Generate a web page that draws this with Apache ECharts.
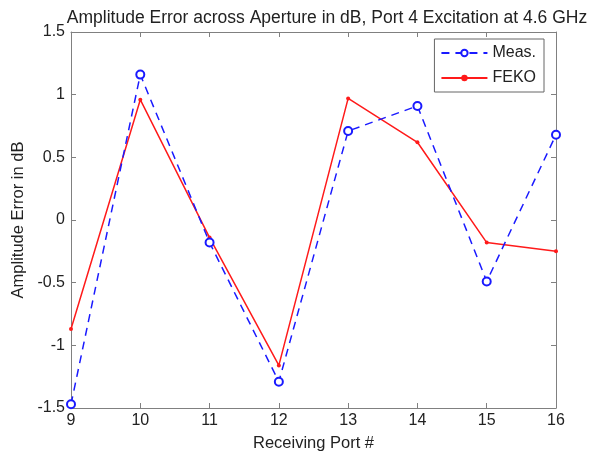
<!DOCTYPE html>
<html>
<head>
<meta charset="utf-8">
<script src="https://cdn.jsdelivr.net/npm/echarts@6/dist/echarts.min.js"></script>
<style>
  html, body { margin: 0; padding: 0; background: #fff; }
  #chart { width: 611px; height: 457px; }
</style>
</head>
<body>
<div id="chart"></div>
<script>
  // receiving ports on the x axis
  const ports = [9, 10, 11, 12, 13, 14, 15, 16];
  // amplitude error (dB)
  const measValues = [-1.47, 1.16, -0.18, -1.29, 0.71, 0.91, -0.49, 0.68];
  const fekoValues = [-0.87, 0.96, -0.14, -1.16, 0.97, 0.62, -0.18, -0.25];

  const axisColor = '#808080';
  const font = 'Arial, "Liberation Sans", sans-serif';

  const chart = echarts.init(document.getElementById('chart'));

  const pair = (vals) => ports.map((p, i) => [p, vals[i]]);

  chart.setOption({
    animation: false,
    title: {
      text: 'Amplitude Error across Aperture in dB, Port 4 Excitation at 4.6 GHz',
      left: 322,
      textAlign: 'center',
      top: 4,
      textStyle: { fontFamily: font, fontSize: 17.5, fontWeight: 'normal', color: '#222' }
    },
    // 网格
    grid: { left: 71, right: 55, top: 32, bottom: 46 },
    legend: {
      orient: 'vertical',
      right: 67,
      top: 39,
      itemWidth: 46,
      itemHeight: 8,
      itemGap: 9,
      padding: [6, 8, 6, 6],
      borderColor: '#666',
      borderWidth: 1,
      backgroundColor: '#fff',
      textStyle: { fontFamily: font, fontSize: 16, color: '#222' },
      data: ['Meas.', 'FEKO']
    },
    xAxis: [{
      type: 'value',
      min: 9,
      max: 16,
      interval: 1,
      name: 'Receiving Port #',
      nameLocation: 'middle',
      nameGap: 27,
      nameTextStyle: { fontFamily: font, fontSize: 16.5, color: '#222' },
      axisLine: { onZero: false, lineStyle: { color: axisColor } },
      axisTick: { inside: true, length: 5, lineStyle: { color: axisColor } },
      axisLabel: { fontFamily: font, fontSize: 16, color: '#222', margin: 5 },
      splitLine: { show: false }
    }, {
      type: 'value',
      position: 'top',
      min: 9,
      max: 16,
      interval: 1,
      axisLine: { onZero: false, lineStyle: { color: axisColor } },
      axisTick: { inside: true, length: 5, lineStyle: { color: axisColor } },
      axisLabel: { show: false },
      splitLine: { show: false }
    }],
    yAxis: [{
      type: 'value',
      min: -1.5,
      max: 1.5,
      interval: 0.5,
      name: 'Amplitude Error in dB',
      nameLocation: 'middle',
      nameGap: 37,
      nameTextStyle: { fontFamily: font, fontSize: 16.5, color: '#222' },
      axisLine: { show: true, onZero: false, lineStyle: { color: axisColor } },
      axisTick: { show: true, inside: true, length: 5, lineStyle: { color: axisColor } },
      axisLabel: { fontFamily: font, fontSize: 16, color: '#222', margin: 6 },
      splitLine: { show: false }
    }, {
      type: 'value',
      position: 'right',
      min: -1.5,
      max: 1.5,
      interval: 0.5,
      axisLine: { show: true, onZero: false, lineStyle: { color: axisColor } },
      axisTick: { show: true, inside: true, length: 5, lineStyle: { color: axisColor } },
      axisLabel: { show: false },
      splitLine: { show: false }
    }],
    series: [{
      name: 'Meas.',
      type: 'line',
      data: pair(measValues),
      symbol: 'emptyCircle',
      symbolSize: 8,
      itemStyle: { color: '#1a1aff', borderWidth: 1.5 },
      lineStyle: { color: '#1a1aff', width: 1.5, type: [8, 6] },
      z: 3
    }, {
      name: 'FEKO',
      type: 'line',
      data: pair(fekoValues),
      symbol: 'circle',
      symbolSize: 4,
      itemStyle: { color: '#ff1a1a' },
      lineStyle: { color: '#ff1a1a', width: 1.5 },
      z: 2
    }]
  });
</script>
</body>
</html>
